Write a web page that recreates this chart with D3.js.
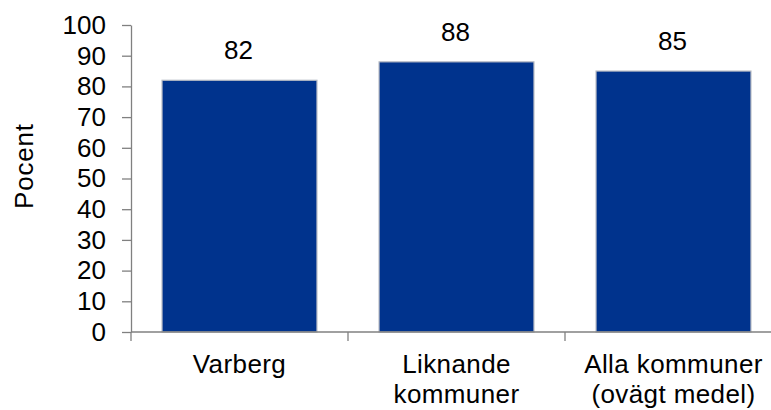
<!DOCTYPE html>
<html>
<head>
<meta charset="utf-8">
<script src="https://cdn.jsdelivr.net/npm/d3@7"></script>
<style>
  html, body { margin: 0; padding: 0; background: #fff; }
  svg { display: block; }
  text { font-family: "Liberation Sans", Arial, sans-serif; fill: #000; }
</style>
</head>
<body>
<svg id="chart" width="771" height="410"></svg>
<script>
// Chart data
const categories = ["Varberg", "Liknande kommuner", "Alla kommuner (ovägt medel)"];
const categoryLines = [["Varberg"], ["Liknande", "kommuner"], ["Alla kommuner", "(ovägt medel)"]];
const values = [82, 88, 85];
const yTicks = [0, 10, 20, 30, 40, 50, 60, 70, 80, 90, 100];
const yTitle = "Pocent";

const svg = d3.select("#chart");
const plot = { left: 131, top: 25, right: 782, bottom: 332 };
const fontSize = 26;

const x = d3.scaleBand()
  .domain(categories)
  .range([plot.left, plot.right])
  .paddingInner(0.286)
  .paddingOuter(0.143);

const y = d3.scaleLinear()
  .domain([0, 100])
  .range([plot.bottom, plot.top]);

const axisColor = "#808080";

// Bars
svg.append("g")
  .selectAll("rect")
  .data(values)
  .join("rect")
  .attr("x", (d, i) => x(categories[i]))
  .attr("y", d => y(d))
  .attr("width", x.bandwidth())
  .attr("height", d => y(0) - y(d))
  .attr("fill", "#00338D")
  .attr("stroke", "#B8BCC4")
  .attr("stroke-width", 1.2);

// Value labels
svg.append("g")
  .selectAll("text")
  .data(values)
  .join("text")
  .attr("x", (d, i) => x(categories[i]) + x.bandwidth() / 2 - 1)
  .attr("y", d => y(d) - 21)
  .attr("text-anchor", "middle")
  .attr("font-size", fontSize)
  .text(d => d);

// Y axis
const yAxis = svg.append("g")
  .attr("transform", `translate(${plot.left},0)`)
  .call(d3.axisLeft(y).tickValues(yTicks).tickSize(9).tickPadding(16).tickSizeOuter(0));
yAxis.select(".domain").attr("stroke", axisColor).attr("stroke-width", 1.3);
yAxis.selectAll(".tick line").attr("stroke", axisColor).attr("stroke-width", 1.3);
yAxis.selectAll(".tick text")
  .attr("font-size", fontSize)
  .attr("font-family", "Liberation Sans, Arial, sans-serif")
  .attr("fill", "#000");

// X axis: line with ticks at category boundaries
const xg = svg.append("g");
xg.append("line")
  .attr("x1", plot.left).attr("x2", 771)
  .attr("y1", y(0)).attr("y2", y(0))
  .attr("stroke", axisColor).attr("stroke-width", 1.3);
const step = x.step();
const boundaries = [0, 1, 2].map(i => x(categories[i]) - step * x.paddingInner() / 2);
xg.selectAll("line.tick")
  .data(boundaries)
  .join("line")
  .attr("class", "tick")
  .attr("x1", d => d).attr("x2", d => d)
  .attr("y1", y(0)).attr("y2", y(0) + 9)
  .attr("stroke", axisColor).attr("stroke-width", 1.3);

// Category labels
categoryLines.forEach((lines, i) => {
  const cx = x(categories[i]) + x.bandwidth() / 2;
  const t = svg.append("text")
    .attr("x", cx)
    .attr("y", 373)
    .attr("text-anchor", "middle")
    .attr("font-size", fontSize)
    .attr("letter-spacing", 0.4);
  lines.forEach((ln, j) => {
    t.append("tspan")
      .attr("x", cx)
      .attr("dy", j === 0 ? 0 : 30)
      .text(ln);
  });
});

// Y axis title
svg.append("text")
  .attr("transform", "translate(33,166) rotate(-90)")
  .attr("text-anchor", "middle")
  .attr("font-size", fontSize)
  .attr("letter-spacing", 0.8)
  .text(yTitle);
</script>
</body>
</html>
